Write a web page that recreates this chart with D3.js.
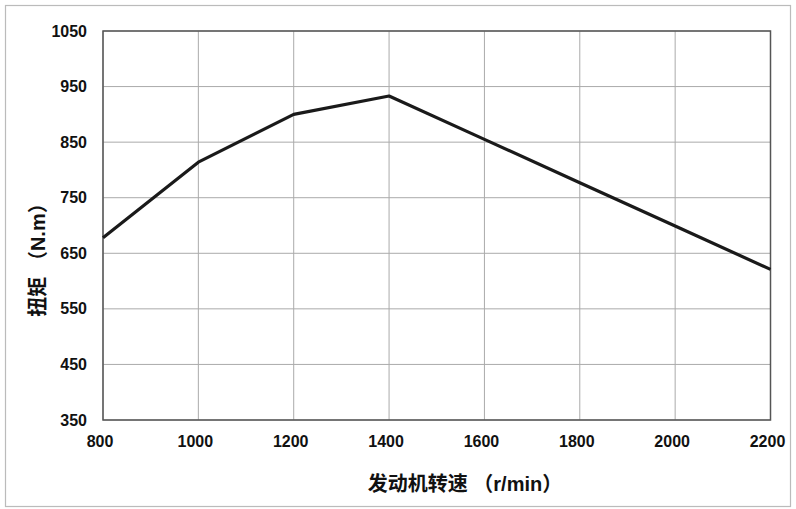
<!DOCTYPE html>
<html>
<head>
  <meta charset="utf-8">
  <style>
    body { margin: 0; padding: 0; background: #fff; }
    text { font-family: "Liberation Sans", Arial, "Noto Sans CJK SC", sans-serif; }
  </style>
</head>
<body>
  <div id="chart"></div>
  <script src="https://d3js.org/d3.v7.min.js"></script>
  <script>
    // engine speed (r/min) vs torque (N.m)
    var speeds = [800, 1000, 1200, 1400, 1600, 1800, 2000, 2200];
    var torques = [678, 814, 900, 933, 855, 777, 699, 621];
    var xTicks = [800, 1000, 1200, 1400, 1600, 1800, 2000, 2200];
    var yTicks = [350, 450, 550, 650, 750, 850, 950, 1050];

    var width = 796, height = 509;
    var margin = {left: 103, top: 31, right: 25.5, bottom: 89};

    var svg = d3.select('#chart').append('svg')
      .attr('width', width).attr('height', height);

    // outer frame
    svg.append('rect')
      .attr('x', 5.5).attr('y', 5.5)
      .attr('width', 785).attr('height', 501)
      .attr('fill', 'none').attr('stroke', '#bbb').attr('stroke-width', 1.2);

    var x = d3.scaleLinear().domain([800, 2200]).range([margin.left, width - margin.right]);
    var y = d3.scaleLinear().domain([350, 1050]).range([height - margin.bottom, margin.top]);

    // grid
    svg.append('g').selectAll('line.v')
      .data(xTicks)
      .enter().append('line')
      .attr('x1', function(d) { return x(d); })
      .attr('x2', function(d) { return x(d); })
      .attr('y1', y(350)).attr('y2', y(1050))
      .attr('stroke', '#aaa').attr('stroke-width', 1);
    svg.append('g').selectAll('line.h')
      .data(yTicks)
      .enter().append('line')
      .attr('x1', x(800)).attr('x2', x(2200))
      .attr('y1', function(d) { return y(d); })
      .attr('y2', function(d) { return y(d); })
      .attr('stroke', '#aaa').attr('stroke-width', 1);

    // plot frame
    svg.append('rect')
      .attr('x', x(800)).attr('y', y(1050))
      .attr('width', x(2200) - x(800)).attr('height', y(350) - y(1050))
      .attr('fill', 'none').attr('stroke', '#555').attr('stroke-width', 1.5);

    // tick labels
    svg.append('g').selectAll('text')
      .data(xTicks)
      .enter().append('text')
      .attr('x', function(d) { return x(d) - 3; })
      .attr('y', y(350) + 27)
      .attr('text-anchor', 'middle')
      .style('font-size', '16px').style('font-weight', 'bold').attr('fill', '#111')
      .text(function(d) { return d; });
    svg.append('g').selectAll('text')
      .data(yTicks)
      .enter().append('text')
      .attr('x', x(800) - 16)
      .attr('y', function(d) { return y(d); })
      .attr('dy', '0.35em')
      .attr('text-anchor', 'end')
      .style('font-size', '16px').style('font-weight', 'bold').attr('fill', '#111')
      .text(function(d) { return d; });

    // line
    var line = d3.line()
      .x(function(d, i) { return x(speeds[i]); })
      .y(function(d) { return y(d); });
    svg.append('path')
      .datum(torques)
      .attr('d', line)
      .attr('fill', 'none')
      .attr('stroke', '#1a1a1a')
      .attr('stroke-width', 3.2)
      .attr('stroke-linejoin', 'round');

    // axis titles
    svg.append('text')
      .attr('x', 465).attr('y', 491)
      .attr('text-anchor', 'middle')
      .style('font-size', '20px').style('font-weight', 'bold').attr('fill', '#111')
      .text('发动机转速 （r/min）');
    svg.append('text')
      .attr('transform', 'translate(45, 255) rotate(-90)')
      .attr('text-anchor', 'middle')
      .style('font-size', '20px').style('font-weight', 'bold').attr('fill', '#111')
      .text('扭矩 （N.m）');
  </script>
</body>
</html>
